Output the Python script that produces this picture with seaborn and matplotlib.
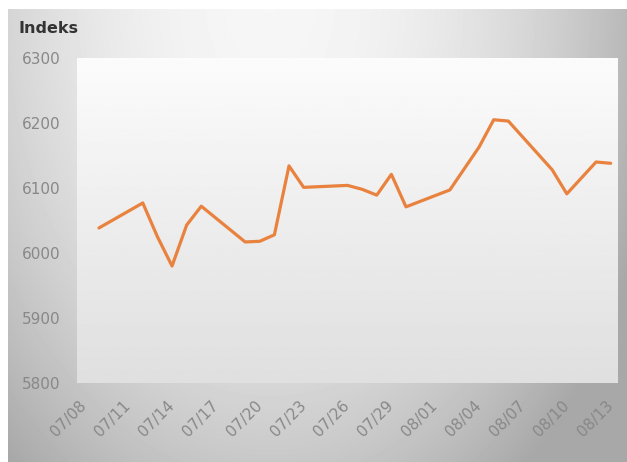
import numpy as np
import pandas as pd
import matplotlib
matplotlib.use("Agg")
import matplotlib.pyplot as plt
import seaborn as sns

sns.set_style("white")
plt.rcParams['font.family'] = ['DejaVu Sans']

# ---- data ----
year = "2021"
dates = ["07/09", "07/12", "07/13", "07/14", "07/15", "07/16",
         "07/19", "07/20", "07/21", "07/22", "07/23",
         "07/26", "07/27", "07/28", "07/29", "07/30",
         "08/02", "08/03", "08/04", "08/05", "08/06",
         "08/09", "08/10", "08/12", "08/13"]
values = [6038.5, 6077, 6025, 5980, 6043, 6072,
          6017, 6018, 6028, 6134, 6101,
          6104, 6098, 6089, 6121, 6071,
          6097, 6130, 6163, 6205, 6203,
          6128, 6091, 6140, 6138]
tick_labels = ["07/08", "07/11", "07/14", "07/17", "07/20", "07/23", "07/26",
               "07/29", "08/01", "08/04", "08/07", "08/10", "08/13"]
y_ticks = [5800, 5900, 6000, 6100, 6200, 6300]
title = "Indeks"

df = pd.DataFrame({"date": pd.to_datetime([year + "/" + d for d in dates]),
                   "value": values})

W, H = 627, 462
fig = plt.figure(figsize=(W / 100, H / 100), dpi=100, facecolor="white")

# figure background gradient
bg = fig.add_axes([8 / W, 0, (W - 8) / W, (H - 9) / H], zorder=0)
xs = np.arange(8, W)
ys = np.arange(9, H)
X, Y = np.meshgrid(xs, ys)
val = 0.965 - 1.9e-6 * (X - 270) ** 2 - 8.5e-7 * (Y) ** 2
val = np.clip(val, 0.66, 1.0)
bg.imshow(val, cmap="gray", vmin=0, vmax=1, aspect="auto", interpolation="bilinear")
bg.axis("off")

pos = [77 / W, (H - 383) / H, 541 / W, 325 / H]
# plot-area gradient
pa = fig.add_axes(pos, zorder=0.5)
g = np.linspace(0.985, 0.875, 200)[:, None] * np.ones((1, 10))
pa.imshow(g, cmap="gray", vmin=0, vmax=1, aspect="auto", interpolation="bilinear")
pa.axis("off")

ax = fig.add_axes(pos, zorder=1)
ax.set_facecolor("none")
sns.lineplot(data=df, x="date", y="value", ax=ax, color="#E8823E", linewidth=2.3)

for s in ax.spines.values():
    s.set_visible(False)
ax.set_ylim(5800, 6300)
ax.set_yticks(y_ticks)
ax.set_yticklabels([str(v) for v in y_ticks])
t0 = pd.Timestamp(year + "/" + tick_labels[0])
t1 = pd.Timestamp(year + "/" + tick_labels[-1])
ax.set_xlim(t0 - pd.Timedelta(hours=12), t1 + pd.Timedelta(hours=12))
ax.set_xticks(pd.to_datetime([year + "/" + t for t in tick_labels]))
ax.set_xticklabels(tick_labels, rotation=45, ha="right", va="center",
                   rotation_mode="anchor")
ax.tick_params(length=0, labelsize=11, labelcolor="#888888")
ax.tick_params(axis="x", pad=14.5)
ax.tick_params(axis="y", pad=12)
ax.set_xlabel("")
ax.set_ylabel("")
ax.grid(False)

fig.text(19 / W, 1 - 33 / H, title, fontsize=11.5, color="#333333",
         fontweight="bold", va="baseline", ha="left")

fig.savefig("out.png", dpi=100)
